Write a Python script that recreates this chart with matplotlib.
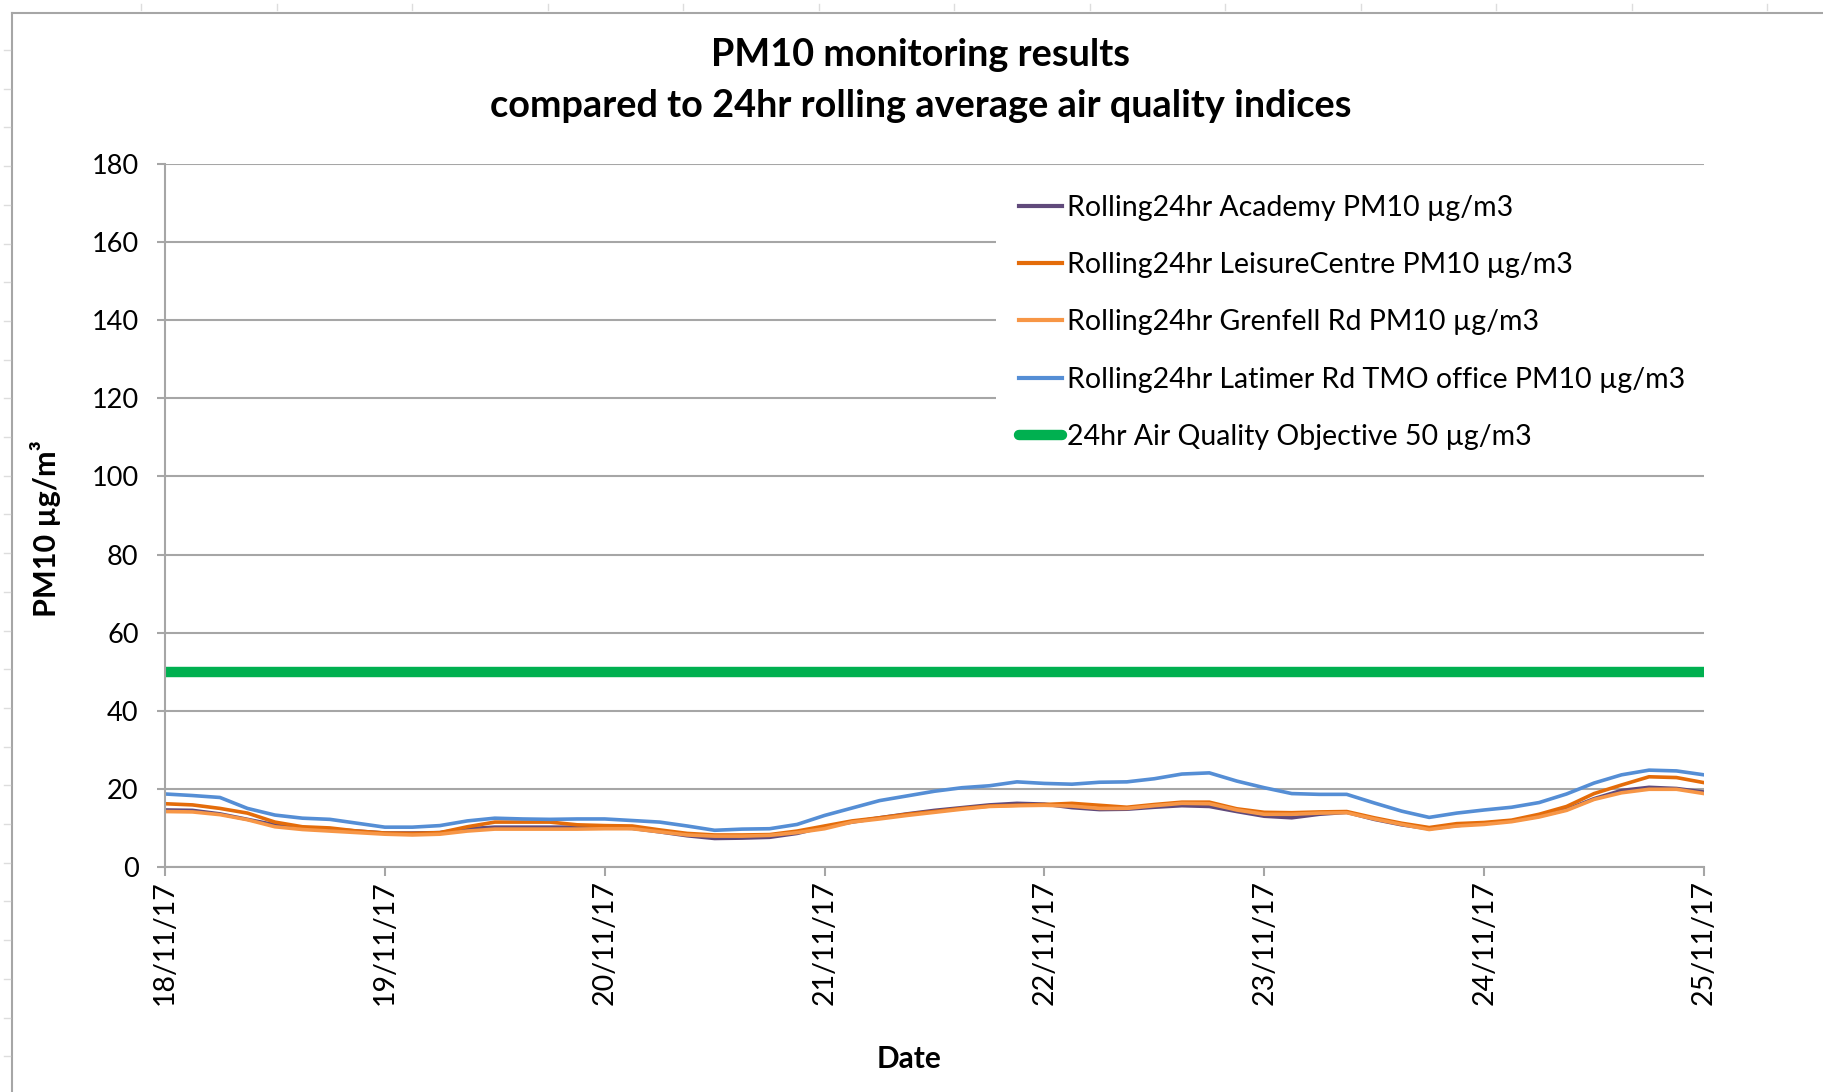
import matplotlib
matplotlib.use("Agg")
import matplotlib.pyplot as plt
import matplotlib.dates as mdates
from matplotlib.lines import Line2D
import pandas as pd

plt.rcParams['font.family'] = ['Lato', 'DejaVu Sans']

# readings every 3 hours, 18/11/17 00:00 -> 25/11/17 00:00
times = pd.date_range("2017-11-18 00:00", "2017-11-25 00:00", freq="3h")

academy = [14.6, 14.5, 13.6, 12.2, 10.8, 10.1, 9.7, 9.2, 8.7, 8.7, 8.8, 9.8, 10.2, 10.2, 10.2, 10.2,
           10.1, 9.9, 9.0, 8.0, 7.3, 7.4, 7.6, 8.6, 10.3, 11.5, 12.6, 13.6, 14.5, 15.2, 15.9, 16.3,
           16.1, 15.2, 14.7, 14.8, 15.3, 15.7, 15.5, 14.2, 13.0, 12.6, 13.5, 14.0, 12.2, 10.8, 9.8, 10.6,
           11.2, 11.8, 13.0, 14.7, 17.5, 19.6, 20.4, 20.1, 19.2]
leisure = [16.2, 15.9, 15.0, 13.8, 11.5, 10.3, 10.0, 9.2, 8.7, 8.6, 8.8, 10.3, 11.5, 11.5, 11.5, 10.8,
           10.6, 10.5, 9.5, 8.6, 8.2, 8.2, 8.3, 9.2, 10.5, 11.8, 12.6, 13.5, 14.2, 15.0, 15.6, 15.8,
           16.0, 16.3, 15.8, 15.3, 16.0, 16.6, 16.6, 14.9, 14.0, 13.9, 14.1, 14.2, 12.6, 11.2, 10.1, 11.1,
           11.4, 12.0, 13.5, 15.5, 18.8, 21.0, 23.1, 22.9, 21.6]
grenfell = [14.2, 14.1, 13.4, 12.1, 10.3, 9.6, 9.2, 8.8, 8.4, 8.2, 8.4, 9.2, 9.7, 9.7, 9.7, 9.7,
            9.8, 9.8, 9.0, 8.2, 7.9, 7.9, 8.1, 8.8, 9.8, 11.5, 12.3, 13.2, 14.0, 14.8, 15.5, 15.7,
            15.8, 15.6, 15.0, 15.0, 15.7, 16.3, 16.2, 14.6, 13.5, 13.5, 13.8, 13.9, 12.3, 10.9, 9.6, 10.5,
            10.9, 11.6, 12.8, 14.5, 17.3, 19.0, 19.9, 19.9, 18.8]
latimer = [18.7, 18.3, 17.8, 15.0, 13.3, 12.5, 12.2, 11.2, 10.2, 10.2, 10.6, 11.8, 12.5, 12.3, 12.2, 12.3,
           12.3, 11.9, 11.5, 10.5, 9.4, 9.7, 9.8, 10.9, 13.2, 15.1, 17.0, 18.2, 19.4, 20.3, 20.8, 21.8,
           21.4, 21.2, 21.7, 21.8, 22.6, 23.8, 24.1, 22.0, 20.3, 18.8, 18.6, 18.6, 16.4, 14.3, 12.7, 13.8,
           14.6, 15.3, 16.5, 18.7, 21.5, 23.6, 24.8, 24.6, 23.6]
objective = 50

labels = ["Rolling24hr Academy PM10 \u00b5g/m3",
          "Rolling24hr LeisureCentre PM10 \u00b5g/m3",
          "Rolling24hr Grenfell Rd PM10 \u00b5g/m3",
          "Rolling24hr Latimer Rd TMO office PM10 \u00b5g/m3",
          "24hr Air Quality Objective 50 \u00b5g/m3"]
colors = ["#604a7b", "#e46c0a", "#f79646", "#558ed5", "#00b050"]

W, H = 1823, 1092
fig = plt.figure(figsize=(W / 100, H / 100), dpi=100)
ax = fig.add_axes([165 / W, 225 / H, 1539 / W, 703 / H])

grey = "#a6a6a6"
for vals, lab, col in zip([academy, leisure, grenfell, latimer], labels[:4], colors[:4]):
    ax.plot(times, vals, color=col, lw=2.6, label=lab)
ax.axhline(objective, color=colors[4], lw=7.5, solid_capstyle="round", label=labels[4])

ax.set_ylim(0, 180)
ax.set_yticks(range(0, 181, 20))
ax.set_xlim(times[0], times[-1])
ax.xaxis.set_major_locator(mdates.DayLocator())
ax.xaxis.set_major_formatter(mdates.DateFormatter("%d/%m/%y"))
ax.yaxis.grid(True, color=grey, lw=1.5)
ax.set_axisbelow(True)
for s in ["top", "right"]:
    ax.spines[s].set_visible(False)
for s in ["left", "bottom"]:
    ax.spines[s].set_color(grey)
    ax.spines[s].set_linewidth(1.5)
ax.tick_params(axis="y", length=6, width=1.5, color=grey, pad=13, labelsize=19.5)
ax.tick_params(axis="x", length=6.5, width=1.5, color=grey, pad=3, labelsize=20.5, labelrotation=90)

leg = ax.legend(loc="upper left", bbox_to_anchor=(0.540, 0.58, 0.46, 0.4086), mode="expand",
                fontsize=20.5, frameon=True, facecolor="white", edgecolor="none", framealpha=1,
                fancybox=False, borderaxespad=0, borderpad=0.8, handlelength=1.5,
                handletextpad=0.18, labelspacing=1.1)
for h in leg.get_lines()[:4]:
    h.set_linewidth(3)

fig.text(921 / W, 1 - 55 / H, "PM10 monitoring results", ha="center", va="center",
         fontsize=27.3, fontweight="bold")
fig.text(921 / W, 1 - 106 / H, "compared to 24hr rolling average air quality indices",
         ha="center", va="center", fontsize=27.3, fontweight="bold")
fig.text(46 / W, 1 - 529 / H, "PM10 \u00b5g/m\u00b3", rotation=90, ha="center", va="center",
         fontsize=22, fontweight="bold")
fig.text(909 / W, 1 - 1059 / H, "Date", ha="center", va="center", fontsize=21.5, fontweight="bold")

# worksheet frame behind the chart
fig.add_artist(Line2D([12 / W, 12 / W], [0, 1 - 13 / H], color=grey, lw=1.5))
fig.add_artist(Line2D([12 / W, 1], [1 - 13 / H, 1 - 13 / H], color=grey, lw=1.5))
for k in range(13):
    x = (141 + 135.5 * k) / W
    fig.add_artist(Line2D([x, x], [1 - 4 / H, 1 - 10 / H], color="#dddddd", lw=1))
for k in range(27):
    y = 1 - (50 + 38.7 * k) / H
    fig.add_artist(Line2D([4 / W, 10 / W], [y, y], color="#dddddd", lw=1))

fig.savefig("out.png", dpi=100)
